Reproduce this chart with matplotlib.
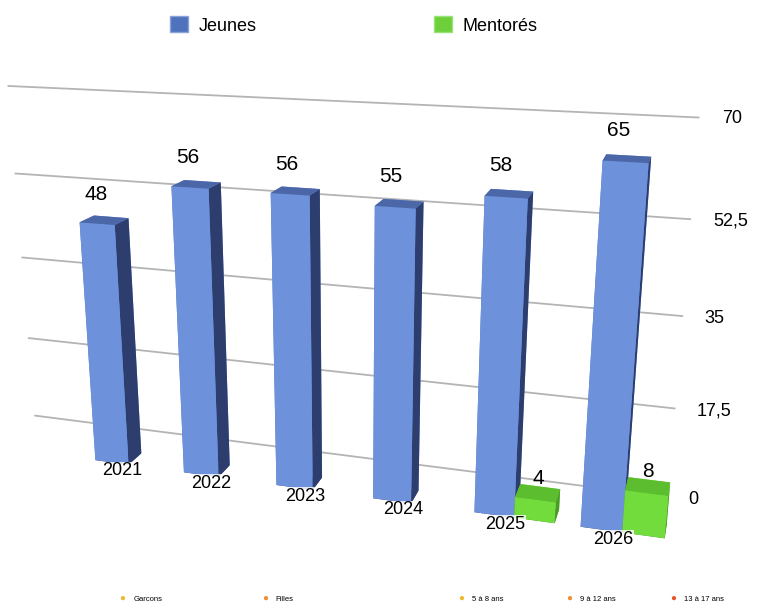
import numpy as np
import matplotlib
matplotlib.use("Agg")
import matplotlib.pyplot as plt
from matplotlib.patches import Patch
from mpl_toolkits.mplot3d import proj3d

years = ["2021", "2022", "2023", "2024", "2025", "2026"]
jeunes = [48, 56, 56, 55, 58, 65]
mentores = [0, 0, 0, 0, 4, 8]
ticks = [0, 17.5, 35, 52.5, 70]
tick_labels = ["0", "17,5", "35", "52,5", "70"]
small_labels = ["Garcons", "Filles", "5 à 8 ans", "9 à 12 ans", "13 à 17 ans"]
small_colors = ["#f0b82c", "#f08c32", "#f0b82c", "#f08c32", "#e8522a"]

plt.rcParams['font.family'] = ['Liberation Sans', 'DejaVu Sans']

fig = plt.figure(figsize=(7.7, 6.1), dpi=100)
# square 3d axes, its centre placed where the box centre is in the picture
S = 800
px0, py0 = 352, 610 - 296
ax = fig.add_axes([(px0 - 0.5135 * S) / 770, (py0 - 0.5135 * S) / 610,
                   S / 770, S / 610], projection='3d',
                  proj_type='persp', focal_length=0.29)
ax.set_axis_off()
ax.computed_zorder = False
ax.view_init(elev=17.3, azim=-73)

n = len(years)
x = np.arange(n, dtype=float)
w = 0.38
d = 0.32
back = 1.25
wall = 0.95
gx0, gx1 = -1.6, 5.35

# face order in bar3d: bottom, top, front, back, left, right
blue_faces = ["#34467a", "#4c67a8", "#6d91da", "#6d91da", "#5a7cc4", "#2c3d6e"]
green_faces = ["#3f8a20", "#5cbd2e", "#72dc3c", "#72dc3c", "#66c836", "#4a9c26"]

# grid on the back wall
for t in ticks:
    ax.plot([gx0, gx1], [wall, wall], [t, t], color="#b4b4b4", lw=1.3, zorder=1)

ax.bar3d(x - w, np.zeros(n), np.zeros(n), w, d, jeunes,
         color=blue_faces * n, shade=False, zorder=3)
mv = np.array(mentores, dtype=float)
m = mv > 0
ax.bar3d(x[m], np.zeros(m.sum()), np.zeros(m.sum()), w, d, mv[m],
         color=green_faces * int(m.sum()), shade=False, zorder=4)

ax.set_xlim(-1.07, 5.53)
ax.set_ylim(0, back)
ax.set_zlim(0, 70)
ax.set_box_aspect((7.2, back, 4.04), zoom=0.95)

fig.canvas.draw()
M = ax.get_proj()


def label(x3, y3, z3, s, **kw):
    px, py, _ = proj3d.proj_transform(x3, y3, z3, M)
    ax.text2D(px, py, s, transform=ax.transData, **kw)


for t, lab in zip(ticks, tick_labels):
    label(gx1 + 0.2, wall, t, lab, fontsize=13, ha="left", va="center")
for i in range(n):
    label(x[i] - w / 2 - 0.08, d / 2, jeunes[i] + 3, str(jeunes[i]),
          fontsize=15, ha="center", va="bottom", zorder=10)
    label(x[i] - 0.08, 0, -1.5, years[i], fontsize=13, ha="center", va="center",
          zorder=10, bbox=dict(fc="white", ec="none", pad=0.5, alpha=0.8))
    if mentores[i] > 0:
        label(x[i] + w / 2, d / 2, mentores[i] + 1.0, str(mentores[i]),
              fontsize=15, ha="center", va="bottom", zorder=11)

# top legend
handles = [Patch(facecolor="#4f72bd", edgecolor="#8aa2d8"),
           Patch(facecolor="#6dcf3a", edgecolor="#9ce27a")]
fig.legend(handles, ["Jeunes", "Mentorés"], loc="upper left",
           bbox_to_anchor=(0.2, 1.0), ncol=2, frameon=False, fontsize=13,
           handlelength=1.0, handleheight=1.0, handletextpad=0.6,
           columnspacing=9.8)

# bottom small legend
xs = [0.155, 0.34, 0.595, 0.735, 0.87]
for xx, lab, col in zip(xs, small_labels, small_colors):
    fig.text(xx, 0.012, "●", color=col, fontsize=7, ha="left", va="bottom")
    fig.text(xx + 0.018, 0.012, lab, fontsize=5.5, ha="left", va="bottom")

fig.savefig("out.png", dpi=100)
